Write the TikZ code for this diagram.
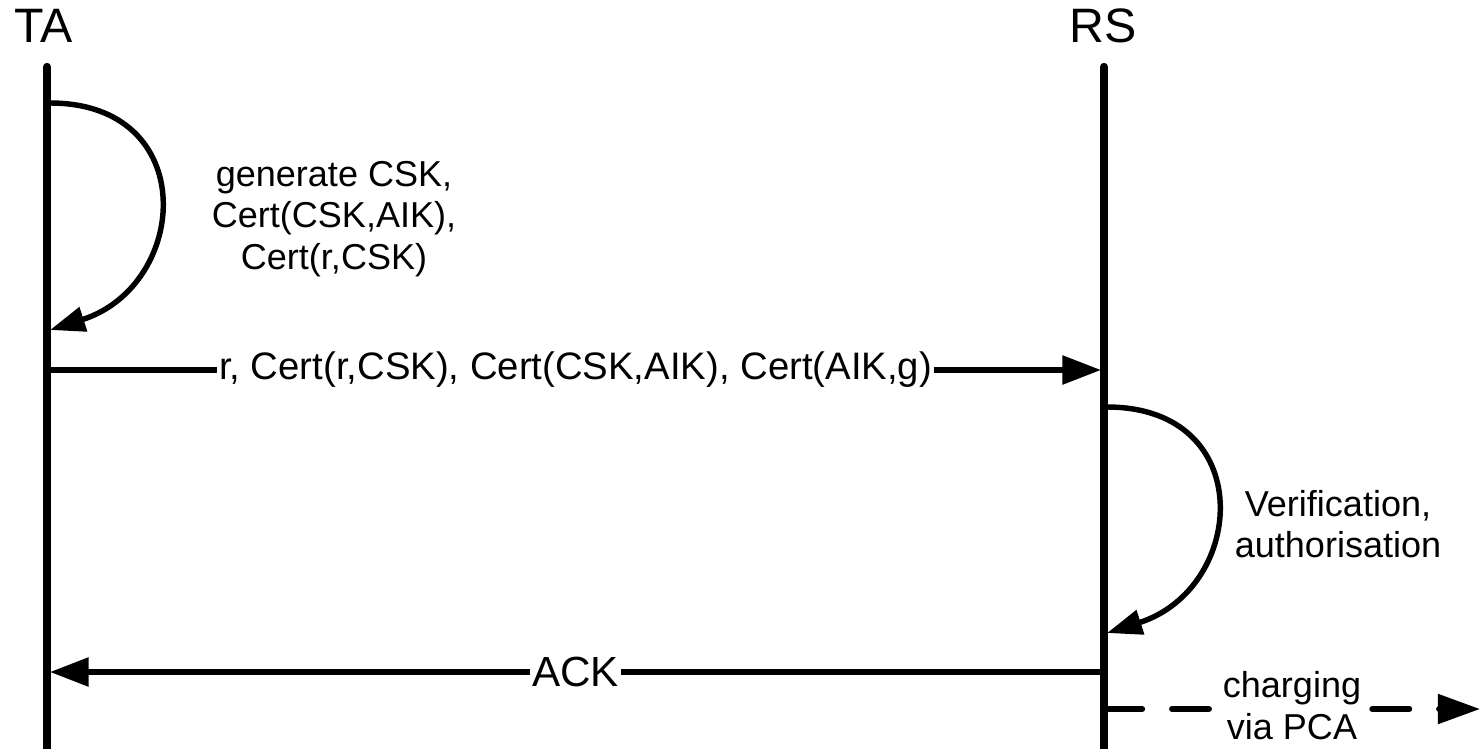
\documentclass[tikz,border=0pt]{standalone}
\usepackage{fontspec}
\setmainfont{Liberation Sans}
\usetikzlibrary{arrows.meta}
\begin{document}
\begin{tikzpicture}[x=0.02cm,y=-0.02cm,
  lifeline/.style={line width=4.8pt,line cap=round},
  msg/.style={line width=3.1pt,-{Triangle[length=22pt,width=16pt]}},
  selfmsg/.style={line width=3.1pt,-{Triangle[length=20pt,width=14pt]}},
  actor/.style={font=\fontsize{27.5}{30}\selectfont,inner sep=0pt},
  lbl/.style={font=\fontsize{20.5}{23.6}\selectfont,align=center,inner sep=0pt},
  onlbl/.style={font=\fontsize{21.8}{24}\selectfont,fill=white,inner xsep=1.2pt,inner ysep=2pt}]
\useasboundingbox (0,0) rectangle (1480,748);
% actors
\node[actor] (TA) at (44,26) {TA};
\node[actor] (RS) at (1103,26) {RS};
% lifeline ends
\coordinate (tatop) at (47,67);
\coordinate (tabot) at (47,760);
\coordinate (rstop) at (1104,67);
\coordinate (rsbot) at (1104,760);
% TA self message
\coordinate (s1a) at (50,103);
\coordinate (s1b) at (50,330);
\draw[selfmsg] (s1a) .. controls (201,103) and (190,285) .. (s1b);
\node[lbl] (gen) at (334,219) {generate CSK,\\Cert(CSK,AIK),\\Cert(r,CSK)};
% main message
\coordinate (m1a) at (50,370);
\coordinate (m1b) at (1101,370);
\draw[msg] (m1a) -- node[onlbl] (m1) {r, Cert(r,CSK), Cert(CSK,AIK), Cert(AIK,g)} (m1b);
% RS self message
\coordinate (s2a) at (1107,407);
\coordinate (s2b) at (1107,633);
\draw[selfmsg] (s2a) .. controls (1258,407) and (1247,588) .. (s2b);
\node[lbl] (ver) at (1338,524) {Verification,\\authorisation};
% ACK
\coordinate (m2a) at (1101,672);
\coordinate (m2b) at (50,672);
\draw[msg] (m2a) -- node[onlbl,font=\fontsize{24}{26}\selectfont] (ack) {ACK} (m2b);
% charging
\coordinate (c1a) at (1105,709);
\coordinate (c1b) at (1480,709);
\draw[line width=3.1pt,line cap=round,dash pattern=on 21.3pt off 16.7pt,-{Triangle[length=24pt,width=16.5pt,line cap=butt]}] (c1a) -- (c1b);
\node[lbl,fill=white,inner xsep=3pt,inner ysep=1pt,font=\fontsize{20.5}{24}\selectfont] (chg) at (1292,706) {charging\\via PCA};
% lifelines
\draw[lifeline] (tatop) -- (tabot);
\draw[lifeline] (rstop) -- (rsbot);
\end{tikzpicture}
\end{document}
